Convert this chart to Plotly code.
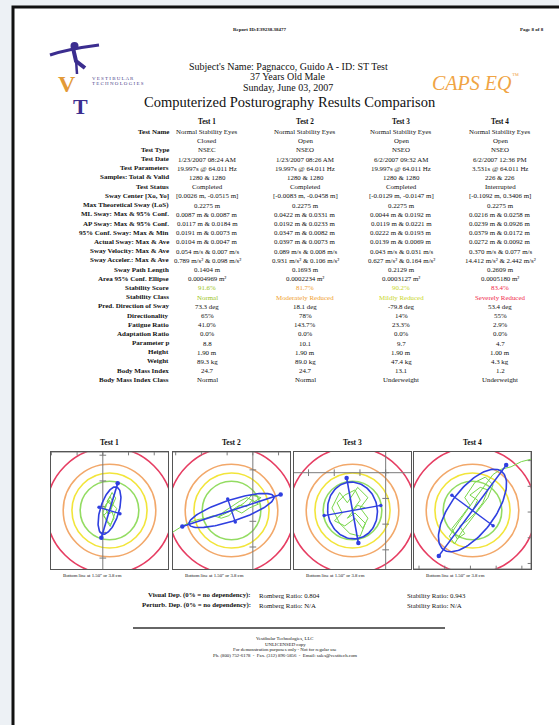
import numpy as np
import plotly.graph_objects as go

W, H = 559, 725
SERIF = "Liberation Serif"

# ---------------------------------------------------------------- table data
tests = ["Test 1", "Test 2", "Test 3", "Test 4"]
row_labels = [
    "Test Name", "", "Test Type", "Test Date", "Test Parameters",
    "Samples: Total & Valid", "Test Status", "Sway Center [Xo, Yo]",
    "Max Theoretical Sway (LoS)", "ML Sway: Max & 95% Conf.",
    "AP Sway: Max & 95% Conf.", "95% Conf. Sway: Max & Min",
    "Actual Sway: Max & Ave", "Sway Velocity: Max & Ave",
    "Sway Acceler.: Max & Ave", "Sway Path Length", "Area 95% Conf. Ellipse",
    "Stability Score", "Stability Class", "Pred. Direction of Sway",
    "Directionality", "Fatigue Ratio", "Adaptation Ratio", "Parameter p",
    "Height", "Weight", "Body Mass Index", "Body Mass Index Class",
]
test1_values = [
    "Normal Stability Eyes", "Closed", "NSEC", "1/23/2007 08:24 AM",
    "19.997s @ 64.011 Hz", "1280 & 1280", "Completed",
    "[0.0026 m, -0.0515 m]", "0.2275 m", "0.0087 m & 0.0087 m",
    "0.0117 m & 0.0184 m", "0.0191 m & 0.0073 m", "0.0104 m & 0.0047 m",
    "0.054 m/s & 0.007 m/s", "0.789 m/s² & 0.098 m/s²", "0.1404 m",
    "0.0004969 m²", "91.6%", "Normal", "73.3 deg", "65%", "41.0%", "0.0%",
    "8.8", "1.90 m", "89.3 kg", "24.7", "Normal",
]
test2_values = [
    "Normal Stability Eyes", "Open", "NSEO", "1/23/2007 08:26 AM",
    "19.997s @ 64.011 Hz", "1280 & 1280", "Completed",
    "[-0.0083 m, -0.0458 m]", "0.2275 m", "0.0422 m & 0.0331 m",
    "0.0192 m & 0.0233 m", "0.0347 m & 0.0082 m", "0.0397 m & 0.0073 m",
    "0.089 m/s & 0.008 m/s", "0.931 m/s² & 0.106 m/s²", "0.1693 m",
    "0.0002234 m²", "81.7%", "Moderately Reduced", "18.1 deg", "78%",
    "143.7%", "0.0%", "10.1", "1.90 m", "89.0 kg", "24.7", "Normal",
]
test3_values = [
    "Normal Stability Eyes", "Open", "NSEO", "6/2/2007 09:32 AM",
    "19.997s @ 64.011 Hz", "1280 & 1280", "Completed",
    "[-0.0129 m, -0.0147 m]", "0.2275 m", "0.0044 m & 0.0192 m",
    "0.0119 m & 0.0221 m", "0.0222 m & 0.0193 m", "0.0139 m & 0.0069 m",
    "0.043 m/s & 0.031 m/s", "0.627 m/s² & 0.164 m/s²", "0.2129 m",
    "0.0003127 m²", "90.2%", "Mildly Reduced", "-79.8 deg", "14%", "23.3%",
    "0.0%", "9.7", "1.90 m", "47.4 kg", "13.1", "Underweight",
]
test4_values = [
    "Normal Stability Eyes", "Open", "NSEO", "6/2/2007 12:36 PM",
    "3.531s @ 64.011 Hz", "226 & 226", "Interrupted",
    "[-0.1092 m, 0.3406 m]", "0.2275 m", "0.0216 m & 0.0258 m",
    "0.0239 m & 0.0926 m", "0.0379 m & 0.0172 m", "0.0272 m & 0.0092 m",
    "0.370 m/s & 0.077 m/s", "14.412 m/s² & 2.442 m/s²", "0.2609 m",
    "0.0005180 m²", "83.4%", "Severely Reduced", "53.4 deg", "55%", "2.9%",
    "0.0%", "4.7", "1.00 m", "4.3 kg", "1.2", "Underweight",
]
stability_colors = ["#9bc41c", "#f0a030", "#c9d62a", "#f0284a"]

# ------------------------------------------------------- stabilogram data (mm)
sway_center_x = [2.6, -8.3, -12.9, -109.2]
sway_center_y = [-51.5, -45.8, -14.7, 340.6]
conf95_max = [19.1, 34.7, 22.2, 37.9]
conf95_min = [7.3, 8.2, 19.3, 17.2]
sway_direction = [73.3, 18.1, -79.8, 53.4]
los_mm = 227.5
zone_radii = [11.4, 14.6, 18.0, 24.5]
zone_colors = ["#93dc62", "#f2e53a", "#f2a86a", "#e63d62"]

sway_x = [
    [3.1, 4.1, 2.8, 1.6, 3.8, 5.0, 3.6, 2.1, 1.0, 2.1, 3.6, 4.4, 2.9, 1.4,
     0.2, 1.8, 3.4, 2.6, 1.1, 0.0, 1.4, 2.9, 4.2, 5.4, 3.8],
    [-8.3, -5.3, -2.3, -0.3, 2.2, -1.3, -4.3, -7.3, -10.3, -13.3, -11.3,
     -8.3, -5.3, -2.3, 0.7, 3.2, -0.3, -3.3, -6.3, -9.3, -12.3, -15.3,
     -18.3, -21.3, -24.3, -27.3, -31.3],
    [-12.9, -9.9, -11.9, -15.9, -18.9, -16.9, -19.9, -15.9, -11.9, -8.9,
     -6.9, -9.9, -6.9, -10.9, -14.9, -17.9, -20.9, -17.9, -13.9, -9.9, -7.9,
     -11.9, -14.9, -10.9, -7.9],
    [-109.2, -107.2, -110.2, -106.2, -103.2, -105.2, -108.2, -111.2, -114.2,
     -112.2, -115.2, -117.2, -113.2, -110.2, -112.2, -108.2, -104.2, -101.2,
     -103.2, -106.2, -109.2, -113.2, -116.2, -118.2, -114.2, -107.2, -101.2,
     -98.2, -94.2, -90.2, -86.2],
]
sway_y = [
    [-51.5, -48.5, -46.0, -48.0, -49.5, -46.7, -44.5, -47.5, -50.5, -53.0,
     -52.0, -54.5, -57.0, -55.0, -53.5, -52.0, -50.0, -47.5, -49.3, -52.5,
     -55.5, -57.7, -54.0, -50.7, -49.1],
    [-45.8, -43.8, -44.3, -41.8, -43.3, -44.8, -46.8, -45.3, -46.8, -48.3,
     -46.3, -44.3, -42.3, -40.8, -42.3, -40.8, -39.8, -42.8, -44.8, -47.8,
     -48.8, -47.8, -48.8, -49.3, -50.3, -51.8, -54.3],
    [-14.7, -10.7, -6.7, -8.7, -11.7, -15.7, -18.7, -20.7, -17.7, -21.7,
     -17.7, -13.7, -9.7, -5.7, -11.7, -7.7, -13.7, -19.7, -23.7, -24.7,
     -19.7, -15.7, -17.7, -12.7, -13.7],
    [340.6, 344.6, 346.6, 349.6, 348.6, 343.6, 339.6, 336.6, 334.6, 331.6,
     329.6, 333.6, 338.6, 342.6, 345.6, 351.6, 353.6, 350.6, 345.6, 341.6,
     337.6, 332.6, 327.6, 330.6, 336.6, 346.6, 354.6, 356.6, 357.6, 359.6,
     360.6],
]
caption = 'Bottom line at 1.50" or 3.8 cm'

# ------------------------------------------------------------ page helpers
def px(x):
    return x / W


def py(y):
    return 1 - y / H


annotations = []
shapes = []


def text(s, x, y, size=7, color="#111", anchor="center", family=SERIF, bold=False):
    if bold:
        s = f"<b>{s}</b>"
    annotations.append(dict(
        text=s, x=px(x), y=py(y), xref="paper", yref="paper",
        xanchor=anchor, yanchor="middle", showarrow=False,
        font=dict(family=family, size=size, color=color),
    ))


# page sheet with dark border
shapes.append(dict(type="rect", xref="paper", yref="paper", layer="below",
                   x0=px(13), x1=px(600), y0=py(760), y1=py(7),
                   fillcolor="white", line=dict(color="#111", width=3)))

# ------------------------------------------------------------------ header
text("<b>Report ID:E39238.38477</b>", 260, 30, size=5)
text("<b>Page 8 of 8</b>", 532, 30, size=5)
text("Subject's Name: Pagnacco, Guido A - ID: ST Test", 289, 66, size=10)
text("37 Years Old Male", 288, 77, size=10)
text("Sunday, June 03, 2007", 288, 87, size=10)
text("Computerized Posturography Results Comparison", 290, 102, size=14.5)
text("<i>CAPS EQ</i>", 472, 83, size=20, color="#f0a444")
text("™", 515, 76, size=7, color="#f0a444")

# logo: balancing figure, letters and wordmark
logo_purple = "#3b2d8f"
shapes.append(dict(type="path", xref="paper", yref="paper",
                   path=f"M {px(50)},{py(55)} Q {px(68)},{py(49)} {px(99)},{py(45)}",
                   line=dict(color=logo_purple, width=3.2)))
shapes.append(dict(type="path", xref="paper", yref="paper",
                   path=f"M {px(73)},{py(48)} L {px(76)},{py(61)} L {px(85)},{py(68)}",
                   line=dict(color=logo_purple, width=4)))
shapes.append(dict(type="path", xref="paper", yref="paper",
                   path=f"M {px(76)},{py(60)} L {px(77)},{py(74)}",
                   line=dict(color=logo_purple, width=2.5)))
shapes.append(dict(type="circle", xref="paper", yref="paper",
                   x0=px(70.5), x1=px(78.5), y0=py(50), y1=py(42),
                   fillcolor=logo_purple, line=dict(width=0)))
text("<b>V</b>", 67, 84, size=24, color="#e39a36")
text("<b>T</b>", 80, 106, size=22, color=logo_purple)
text("V E S T I B U L A R", 90, 78, size=5, color="#4a3f8a", anchor="left")
text("T E C H N O L O G I E S", 90, 83.5, size=5, color="#4a3f8a", anchor="left")

# ------------------------------------------------------------------- table
col_x = [207, 305, 401, 500]
label_right = 171
row_y0, row_step = 131.5, 9.2
columns = [test1_values, test2_values, test3_values, test4_values]
for j, name in enumerate(tests):
    text(name, col_x[j], 122, size=7.2, bold=True)
for i, lab in enumerate(row_labels):
    y = row_y0 + i * row_step
    if lab:
        text(lab, label_right, y, size=7, bold=True, anchor="right")
    for j, vals in enumerate(columns):
        color = stability_colors[j] if lab in ("Stability Score", "Stability Class") else "#111"
        text(vals[i], col_x[j], y, size=6.9, color=color)

# ------------------------------------------------------------ stabilograms
fig = go.Figure()
panel_left = [51, 173, 294, 414]
panel_w = 117
panel_top, panel_bot = 452, 569
half = los_mm / 10.0
axis_gray = "#7a7a7a"

for k in range(4):
    n = "" if k == 0 else str(k + 1)
    xa, ya = f"x{n}", f"y{n}"
    cx, cy = sway_center_x[k], sway_center_y[k]
    xr = [cx - half, cx + half]
    yr = [cy - half, cy + half]
    fig.layout[f"xaxis{n}"] = dict(
        domain=[px(panel_left[k]), px(panel_left[k] + panel_w)], range=xr,
        anchor=ya, showgrid=False, zeroline=False, showticklabels=False,
        ticks="", showline=True, mirror=True, linecolor="#555", linewidth=1,
        fixedrange=True)
    fig.layout[f"yaxis{n}"] = dict(
        domain=[py(panel_bot), py(panel_top)], range=yr, anchor=xa,
        showgrid=False, zeroline=False, showticklabels=False, ticks="",
        showline=True, mirror=True, linecolor="#555", linewidth=1,
        fixedrange=True)

    # stability zones around the sway centre
    for r, c in zip(zone_radii, zone_colors):
        shapes.append(dict(type="circle", xref=xa, yref=ya, layer="below",
                           x0=cx - r, x1=cx + r, y0=cy - r, y1=cy + r,
                           line=dict(color=c, width=1.6)))

    # reference axes through the origin, held at the frame when outside
    ox = min(max(0.0, xr[0]), xr[1])
    oy = min(max(0.0, yr[0]), yr[1])
    shapes.append(dict(type="line", xref=xa, yref=ya, layer="below",
                       x0=ox, x1=ox, y0=yr[0], y1=yr[1],
                       line=dict(color=axis_gray, width=1)))
    shapes.append(dict(type="line", xref=xa, yref=ya, layer="below",
                       x0=xr[0], x1=xr[1], y0=oy, y1=oy,
                       line=dict(color=axis_gray, width=1)))
    tick = 1.3
    for tv in np.arange(np.ceil(yr[0] / 10) * 10, yr[1], 10):
        shapes.append(dict(type="line", xref=xa, yref=ya, layer="below",
                           x0=ox - tick, x1=ox + tick, y0=tv, y1=tv,
                           line=dict(color=axis_gray, width=1)))
    for tv in np.arange(np.ceil(xr[0] / 10) * 10, xr[1], 10):
        shapes.append(dict(type="line", xref=xa, yref=ya, layer="below",
                           x0=tv, x1=tv, y0=oy - tick, y1=oy + tick,
                           line=dict(color=axis_gray, width=1)))

    # centre-of-pressure path
    fig.add_trace(go.Scatter(x=sway_x[k], y=sway_y[k], xaxis=xa, yaxis=ya,
                             mode="lines", line=dict(color="#78d64a", width=1),
                             hoverinfo="skip", showlegend=False))

    # 95% confidence ellipse and its principal axes
    a, b = conf95_max[k] / 2, conf95_min[k] / 2
    th = np.deg2rad(sway_direction[k])
    t = np.linspace(0, 2 * np.pi, 121)
    ex = cx + a * np.cos(t) * np.cos(th) - b * np.sin(t) * np.sin(th)
    ey = cy + a * np.cos(t) * np.sin(th) + b * np.sin(t) * np.cos(th)
    fig.add_trace(go.Scatter(x=ex, y=ey, xaxis=xa, yaxis=ya, mode="lines",
                             line=dict(color="#2f3fe0", width=1.6),
                             hoverinfo="skip", showlegend=False))
    ext = 1.16
    ux, uy = np.cos(th), np.sin(th)
    fig.add_trace(go.Scatter(
        x=[cx - ext * a * ux, cx + ext * a * ux],
        y=[cy - ext * a * uy, cy + ext * a * uy],
        xaxis=xa, yaxis=ya, mode="lines+markers",
        line=dict(color="#2f3fe0", width=1.6),
        marker=dict(color="#2f3fe0", size=4.5),
        hoverinfo="skip", showlegend=False))
    fig.add_trace(go.Scatter(
        x=[cx + ext * b * uy, cx - ext * b * uy],
        y=[cy - ext * b * ux, cy + ext * b * ux],
        xaxis=xa, yaxis=ya, mode="lines+markers",
        line=dict(color="#2f3fe0", width=1.4),
        marker=dict(color="#2f3fe0", size=3.5),
        hoverinfo="skip", showlegend=False))

    mid = panel_left[k] + panel_w / 2
    text(tests[k], mid, 442, size=7.5, bold=True)
    text(caption, panel_left[k] + 10, 575, size=4.8, anchor="left")

# --------------------------------------------------------------- summary
text("Visual Dep. (0% = no dependency):", 253, 595, size=6.8, bold=True, anchor="right")
text("Romberg Ratio: 0.804", 257, 595, size=6.8, anchor="left")
text("Stability Ratio: 0.943", 405, 595, size=6.8, anchor="left")
text("Perturb. Dep. (0% = no dependency):", 253, 605, size=6.8, bold=True, anchor="right")
text("Romberg Ratio: N/A", 257, 605, size=6.8, anchor="left")
text("Stability Ratio: N/A", 405, 605, size=6.8, anchor="left")
shapes.append(dict(type="line", xref="paper", yref="paper",
                   x0=px(133), x1=px(445), y0=py(628), y1=py(628),
                   line=dict(color="#333", width=1.5)))
text("Vestibular Technologies, LLC", 285, 639, size=4.8)
text("UNLICENSED copy", 285, 644, size=4.8)
text("For demonstration purposes only - Not for regular use", 285, 649.5, size=4.8)
text("Ph. (800) 752-6178  -  Fax. (312) 896-5856  -  Email: sales@vestitech.com",
     285, 655, size=4.8)

fig.update_layout(
    width=W, height=H, margin=dict(l=0, r=0, t=0, b=0),
    paper_bgcolor="#edf1f5", plot_bgcolor="white",
    shapes=shapes, annotations=annotations, showlegend=False,
)
fig.write_html("out.html")
